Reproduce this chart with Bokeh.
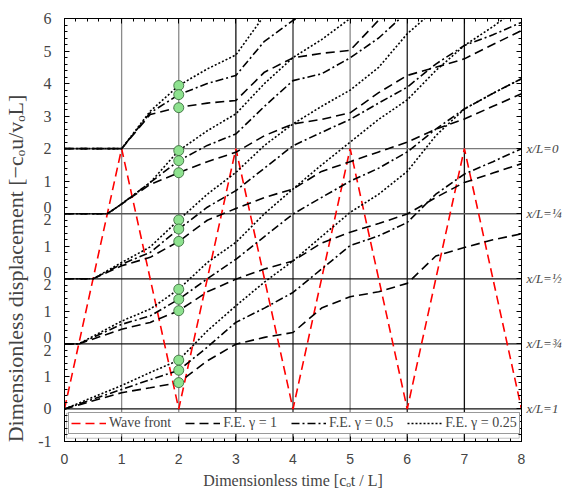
from bokeh.plotting import figure
from bokeh.models import Span, FixedTicker, LinearAxis, Legend, LegendItem, BoxAnnotation
from bokeh.embed import file_html
from bokeh.resources import INLINE

# ---------------- data (relative displacement of each station) ----------------
panels = ["x/L=0", "x/L=¼", "x/L=½", "x/L=¾", "x/L=1"]
baselines = [8, 6, 4, 2, 0]

P0_t = [0, 1.0, 1.5, 2.0, 2.5, 3.0, 3.5, 4.0, 4.5, 5.0, 5.5, 6.0]
P0_dot = [0, 0, 1.15, 1.94, 2.45, 2.88, 4.1]
P0_dd = [0, 0, 1.1, 1.66, 2.0, 2.25, 3.3, 3.94, 4.4]
P0_dash = [0, 0, 1.05, 1.27, 1.4, 1.48, 2.35, 2.79, 2.93, 3.02, 3.95, 4.3]

P1_t = [0, 0.75, 1.0, 1.5, 2.0, 2.5, 3.0, 3.5, 4.0, 4.5, 5.0, 5.5, 6.0, 6.5, 7.0, 7.5, 8.0]
P1_dot = [0, 0, 0.3, 0.96, 1.94, 2.55, 3.07, 4.0, 4.8, 5.35, 6.0, 6.6]
P1_dd = [0, 0, 0.3, 0.96, 1.63, 2.1, 2.45, 3.3, 4.09, 4.3, 4.79, 5.4, 6.2]
P1_dash = [0, 0, 0.3, 0.9, 1.26, 1.6, 1.89, 2.4, 2.76, 2.9, 3.1, 3.72, 4.25, 4.5, 4.76, 5.2, 5.63]

P2_t = [0, 0.5, 1.0, 1.5, 2.0, 2.5, 3.0, 3.5, 4.0, 4.5, 5.0, 5.5, 6.0, 6.5, 7.0, 7.5, 8.0]
P2_dot = [0, 0, 0.5, 0.98, 1.81, 2.6, 3.27, 4.1, 4.76, 5.3, 5.8, 6.5, 7.53, 8.3]
P2_dd = [0, 0, 0.45, 0.81, 1.53, 2.2, 2.71, 3.4, 4.09, 4.5, 4.9, 5.4, 5.89, 6.6, 7.17, 7.5, 7.88]
P2_dash = [0, 0, 0.4, 0.66, 1.15, 1.8, 2.16, 2.5, 2.76, 3.3, 3.6, 3.9, 4.2, 4.6, 4.91, 5.3, 5.69]

P3_t = [0, 0.25, 1.0, 1.5, 2.0, 2.5, 3.0, 3.5, 4.0, 4.5, 5.0, 5.5, 6.0, 6.5, 7.0, 7.5, 8.0]
P3_dot = [0, 0, 0.7, 1.07, 1.68, 2.5, 3.12, 4.0, 4.76, 5.5, 6.2, 6.9, 7.5, 8.4, 9.17, 9.75, 10.4]
P3_dd = [0, 0, 0.6, 0.86, 1.37, 2.0, 2.6, 3.3, 3.99, 4.5, 5.0, 5.4, 5.9, 6.6, 7.22, 7.7, 8.15]
P3_dash = [0, 0, 0.45, 0.66, 1.02, 1.6, 1.99, 2.3, 2.55, 3.1, 3.43, 3.7, 3.99, 4.5, 4.96, 5.25, 5.54]

P4_t = [0, 1.0, 1.5, 2.0, 2.5, 3.0, 3.5, 4.0, 4.5, 5.0, 5.5, 6.0, 6.5, 7.0, 7.5, 8.0]
P4_dot = [0, 0.72, 1.12, 1.5, 2.4, 3.17, 3.9, 4.55, 5.3, 6.04, 6.6, 7.3, 8.4, 9.22, 9.7, 10.15]
P4_dd = [0, 0.6, 0.9, 1.19, 1.9, 2.66, 3.1, 3.58, 4.3, 5.02, 5.32, 5.73, 6.6, 7.22, 7.6, 8.0]
P4_dash = [0, 0.5, 0.65, 0.81, 1.48, 1.99, 2.2, 2.35, 3.1, 3.45, 3.6, 3.86, 4.7, 4.96, 5.2, 5.38]

# markers at t = 2 (gamma 0.25, 0.5, 1) per station
mark_t = 2.0
mark_vals = [[1.94, 1.66, 1.26], [1.94, 1.63, 1.26], [1.81, 1.53, 1.15],
             [1.68, 1.37, 1.02], [1.50, 1.19, 0.81]]

# wave front position (0 = x/L=1, 8 = x/L=0 in the stacked scale)
wave_t = [0, 1, 2, 3, 4, 5, 6, 7, 8]
wave_y = [0, 8, 0, 8, 0, 8, 0, 8, 0]

x_ticks = [0, 1, 2, 3, 4, 5, 6, 7, 8]
y_ticks = list(range(-1, 13))
y_tick_labels = {-1: "-1", 0: "0", 1: "1", 2: "0\n2", 3: "1", 4: "0\n2", 5: "1", 6: "0\n2",
                 7: "1", 8: "2", 9: "3", 10: "4", 11: "5", 12: "6"}

# ---------------- figure ----------------
SERIF = "Liberation Serif"
p = figure(width=565, height=493, x_range=(0, 8), y_range=(-1, 12),
           output_backend="svg", toolbar_location=None,
           min_border_left=63, min_border_right=44, min_border_top=18, min_border_bottom=52)
p.grid.visible = False
p.outline_line_color = "black"
p.background_fill_color = "white"

minor_x = [i * 0.2 for i in range(41)]
minor_y = [-1 + i * 0.2 for i in range(66)]

def style_axis(ax):
    ax.axis_line_color = "black"
    ax.major_tick_in = 5
    ax.major_tick_out = 0
    ax.minor_tick_in = 3
    ax.minor_tick_out = 0
    ax.major_tick_line_color = "black"
    ax.minor_tick_line_color = "black"

xa = p.xaxis[0]
xa.ticker = FixedTicker(ticks=x_ticks, minor_ticks=minor_x)
style_axis(xa)
xa.major_label_text_font = "Liberation Sans"
xa.major_label_text_font_size = "14px"
xa.major_label_standoff = 12
xa.axis_label = "Dimensionless time [cₒt / L]"
xa.axis_label_text_font = SERIF
xa.axis_label_text_font_style = "normal"
xa.axis_label_text_font_size = "16px"
xa.axis_label_standoff = 5

NBSP = "\u00a0"
ya = p.yaxis[0]
ya.ticker = FixedTicker(ticks=y_ticks, minor_ticks=minor_y)
style_axis(ya)
ya.major_label_overrides = y_tick_labels
ya.major_label_text_font = SERIF
ya.major_label_text_font_size = "16px"
ya.major_label_text_line_height = 0.72
ya.major_label_standoff = 13
ya.axis_label = "Dimensionless displacement [−cₒu/vₒL]" + NBSP * 14
ya.axis_label_text_font = SERIF
ya.axis_label_text_font_style = "normal"
ya.axis_label_text_font_size = "22px"
ya.axis_label_standoff = 7

top = LinearAxis(ticker=FixedTicker(ticks=x_ticks, minor_ticks=minor_x))
style_axis(top)
top.major_label_overrides = {t: "" for t in x_ticks}
top.major_label_standoff = 0
p.add_layout(top, "above")

right = LinearAxis(ticker=FixedTicker(ticks=y_ticks, minor_ticks=minor_y))
style_axis(right)
right_labels = {t: "" for t in y_ticks}
for name, base in zip(panels, baselines):
    right_labels[base] = name
right.major_label_overrides = right_labels
right.major_label_text_font = SERIF
right.major_label_text_font_style = "italic"
right.major_label_text_font_size = "13px"
right.major_label_standoff = 5
p.add_layout(right, "right")

# grid-like reference lines
v_cols = {1: "#8a8a8a", 2: "#8a8a8a", 3: "#111111", 4: "#333333", 5: "#8a8a8a", 6: "#222222", 7: "#111111"}
for t, c in v_cols.items():
    p.add_layout(Span(location=t, dimension="height", line_color=c, line_width=1.3, level="underlay"))
h_cols = {8: "#7a7a7a", 6: "#555555", 4: "#111111", 2: "#111111", 0: "#111111"}
for yv, c in h_cols.items():
    p.add_layout(Span(location=yv, dimension="width", line_color=c, line_width=1.3, level="underlay"))

# wave front
wave_r = p.line(wave_t, wave_y, line_color="red", line_width=1.6, line_dash="9 5")

# FE curves
curves = [(P0_t, P0_dot, P0_dd, P0_dash), (P1_t, P1_dot, P1_dd, P1_dash),
          (P2_t, P2_dot, P2_dd, P2_dash), (P3_t, P3_dot, P3_dd, P3_dash),
          (P4_t, P4_dot, P4_dd, P4_dash)]
styles = {"dot": "2 2", "dd": "8 3 2 3", "dash": "9 5"}
rend = {}
for base, (tt, dot, dd, dash) in zip(baselines, curves):
    for key, vals in (("dash", dash), ("dd", dd), ("dot", dot)):
        xs = tt[:len(vals)]
        ys = [base + v for v in vals]
        r = p.line(xs, ys, line_color="black", line_width=1.6, line_dash=styles[key])
        rend.setdefault(key, r)

# markers
mx, my = [], []
for base, vals in zip(baselines, mark_vals):
    for v in vals:
        mx.append(mark_t)
        my.append(base + v)
p.scatter(mx, my, size=10, fill_color="#8ee28f", line_color="#2f5f31", line_width=0.8)

# legend (double frame)
p.add_layout(BoxAnnotation(left=0.035, right=7.96, bottom=-0.9, top=-0.13,
                           fill_alpha=0, line_color="#333333", line_width=1, level="overlay"))
legend = Legend(items=[LegendItem(label="Wave front", renderers=[wave_r]),
                       LegendItem(label="F.E. γ = 1", renderers=[rend["dash"]]),
                       LegendItem(label="F.E. γ = 0.5", renderers=[rend["dd"]]),
                       LegendItem(label="F.E. γ = 0.25", renderers=[rend["dot"]])],
                orientation="horizontal", location=(4, 7))
legend.label_text_font = SERIF
legend.label_text_font_size = "14px"
legend.glyph_width = 35
legend.glyph_height = 12
legend.label_standoff = 3
legend.spacing = 14
legend.padding = 2
legend.margin = 0
legend.border_line_color = "#333333"
legend.border_line_width = 1
legend.background_fill_alpha = 1
p.add_layout(legend)

open("out.html", "w").write(file_html(p, INLINE))
